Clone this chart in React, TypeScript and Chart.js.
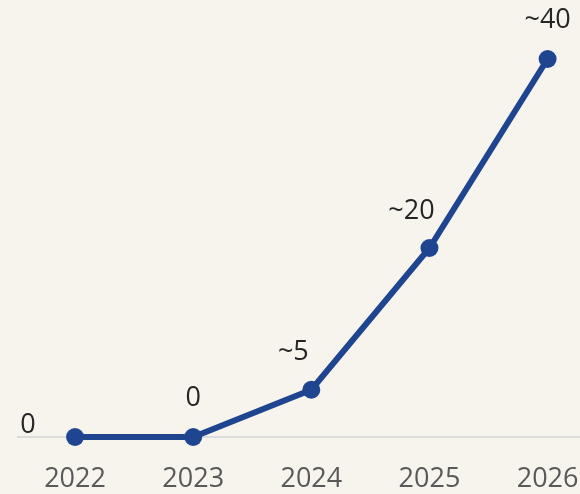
import React, { useEffect, useRef } from "react";
import { Chart, registerables } from "chart.js";

Chart.register(...registerables);

const years = [2022, 2023, 2024, 2025, 2026];
const values = [0, 0, 5, 20, 40];
const valueLabels = ["0", "0", "~5", "~20", "~40"];
const labelPlacement = ["left", "top", "topleft", "topleft", "top"];

const BG = "#f7f4ee";
const LINE = "#1f4591";
const FONT = "'Open Sans', 'Liberation Sans', sans-serif";

const offsets: Record<string, [number, number]> = {
  left: [-47, -12],
  top: [0, -39],
  topleft: [-18, -37],
};

const bgPlugin = {
  id: "bg",
  beforeDraw(chart: any) {
    const { ctx, width, height } = chart;
    ctx.save();
    ctx.fillStyle = BG;
    ctx.fillRect(0, 0, width, height);
    ctx.restore();
  },
};

const labelPlugin = {
  id: "valueLabels",
  afterDatasetsDraw(chart: any) {
    const { ctx } = chart;
    const meta = chart.getDatasetMeta(0);
    ctx.save();
    ctx.font = `27px ${FONT}`;
    ctx.fillStyle = "#262626";
    ctx.textAlign = "center";
    ctx.textBaseline = "middle";
    meta.data.forEach((pt: any, i: number) => {
      const [dx, dy] = offsets[labelPlacement[i]];
      ctx.fillText(valueLabels[i], pt.x + dx, pt.y + dy);
    });
    ctx.restore();
  },
};

export default function App() {
  const ref = useRef<HTMLCanvasElement>(null);
  useEffect(() => {
    if (!ref.current) return;
    const chart = new Chart(ref.current, {
      type: "line",
      data: {
        datasets: [
          {
            data: years.map((y, i) => ({ x: y, y: values[i] })),
            borderColor: LINE,
            backgroundColor: LINE,
            borderWidth: 6,
            pointRadius: 9,
            pointBorderWidth: 0,
            pointBackgroundColor: LINE,
            tension: 0,
            clip: false as any,
          },
        ],
      },
      options: {
        animation: false,
        responsive: false,
        maintainAspectRatio: false,
        layout: { padding: { left: 18, right: 0, top: 59, bottom: 3 } },
        plugins: {
          legend: { display: false },
          tooltip: { enabled: false },
        },
        scales: {
          x: {
            type: "linear",
            min: 2021.517,
            max: 2026.28,
            afterBuildTicks: (scale: any) => {
              scale.ticks = years.map((v) => ({ value: v }));
            },
            grid: { display: false, drawTicks: false },
            border: { display: true, color: "#dcdcdc", width: 2 },
            ticks: {
              padding: 29,
              color: "#595959",
              font: { family: FONT, size: 27, lineHeight: 1 },
              callback: (v: any) => String(v),
              maxRotation: 0,
              autoSkip: false,
            },
          },
          y: {
            display: false,
            min: 0,
            max: 40,
          },
        },
      },
      plugins: [bgPlugin, labelPlugin],
    });
    return () => chart.destroy();
  }, []);
  return (
    <div
      style={{
        position: "fixed",
        left: 0,
        top: 0,
        width: 580,
        height: 494,
        overflow: "hidden",
        background: BG,
      }}
    >
      <canvas ref={ref} width={608} height={525} style={{ display: "block" }} />
    </div>
  );
}
